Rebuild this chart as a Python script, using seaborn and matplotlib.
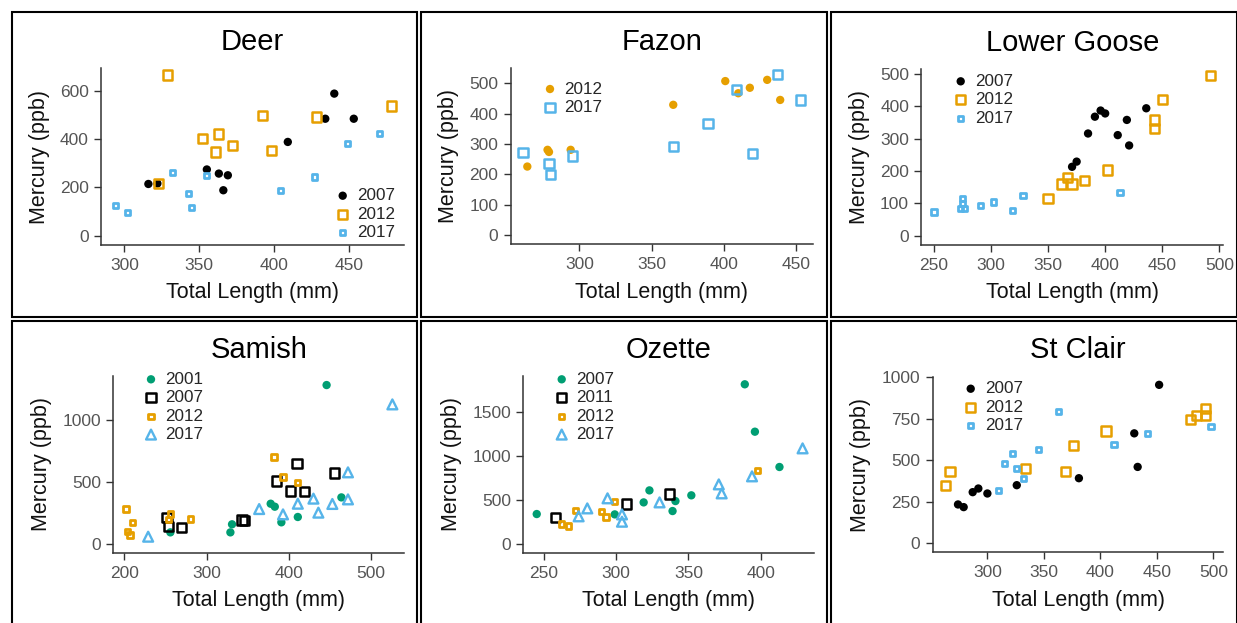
import matplotlib
matplotlib.use("Agg")
import matplotlib.pyplot as plt
import seaborn as sns
from matplotlib.patches import Rectangle

# ------------------------- data -------------------------
# Deer
deer_len_2007 = [316, 322, 355, 363, 366, 369, 409, 434, 440, 453]
deer_hg_2007 = [214, 216, 274, 257, 188, 250, 388, 484, 588, 484]
deer_len_2012 = [329, 323, 352, 363, 361, 372, 392, 398, 428, 478]
deer_hg_2012 = [665, 217, 401, 421, 346, 374, 498, 354, 491, 537]
deer_len_2017 = [294, 302, 332, 343, 345, 355, 404, 427, 449, 470]
deer_hg_2017 = [124, 97, 263, 174, 117, 250, 188, 243, 381, 422]

# Fazon
fazon_len_2012 = [264, 278, 279, 294, 365, 401, 410, 418, 430, 439]
fazon_hg_2012 = [226, 281, 274, 281, 429, 507, 467, 485, 511, 445]
fazon_len_2017 = [261, 279, 280, 295, 365, 389, 409, 420, 437, 453]
fazon_hg_2017 = [273, 235, 201, 261, 292, 367, 480, 269, 528, 445]

# Lower Goose
goose_len_2007 = [371, 375, 385, 391, 396, 400, 411, 419, 421, 436]
goose_hg_2007 = [213, 229, 316, 368, 387, 378, 311, 358, 279, 394]
goose_len_2012 = [350, 362, 367, 371, 382, 402, 443, 443, 450, 492]
goose_hg_2012 = [114, 160, 179, 160, 171, 203, 358, 332, 420, 496]
goose_len_2017 = [250, 273, 275, 275, 277, 291, 302, 319, 328, 413]
goose_hg_2017 = [73, 85, 115, 100, 84, 94, 104, 77, 125, 134]

# Samish
samish_len_2001 = [256, 329, 331, 378, 383, 391, 411, 446, 464]
samish_hg_2001 = [94, 94, 159, 325, 301, 175, 218, 1282, 376]
samish_len_2007 = [252, 254, 270, 343, 346, 385, 410, 402, 419, 456]
samish_hg_2007 = [215, 140, 132, 194, 188, 508, 648, 427, 422, 573]
samish_len_2012 = [202, 204, 207, 210, 256, 254, 280, 382, 393, 411]
samish_hg_2012 = [282, 99, 73, 175, 242, 196, 202, 702, 541, 497]
samish_len_2017 = [229, 364, 393, 411, 430, 436, 453, 472, 472, 526]
samish_hg_2017 = [59, 282, 239, 325, 366, 253, 323, 578, 360, 1126]

# Ozette
ozette_len_2007 = [245, 299, 319, 323, 341, 339, 352, 389, 396, 413]
ozette_hg_2007 = [340, 336, 472, 608, 487, 374, 552, 1810, 1273, 873]
ozette_len_2011 = [258, 307, 337]
ozette_hg_2011 = [298, 453, 567]
ozette_len_2012 = [262, 267, 272, 290, 293, 299, 398]
ozette_hg_2012 = [227, 204, 382, 366, 306, 480, 835]
ozette_len_2017 = [274, 280, 294, 304, 304, 330, 371, 373, 394, 429]
ozette_hg_2017 = [314, 404, 518, 336, 253, 472, 676, 574, 767, 1084]

# St Clair
clair_len_2007 = [274, 279, 287, 292, 300, 326, 381, 430, 433, 452]
clair_hg_2007 = [234, 218, 308, 330, 300, 350, 392, 662, 460, 954]
clair_len_2012 = [263, 267, 334, 369, 376, 405, 480, 485, 493, 493]
clair_hg_2012 = [350, 430, 450, 430, 588, 676, 746, 770, 810, 770]
clair_len_2017 = [310, 315, 322, 326, 332, 345, 363, 412, 442, 498]
clair_hg_2017 = [320, 480, 540, 450, 390, 564, 792, 594, 662, 704]

lakes = ["Deer", "Fazon", "Lower Goose", "Samish", "Ozette", "St Clair"]
series = {
    "Deer": [("2007", deer_len_2007, deer_hg_2007), ("2012", deer_len_2012, deer_hg_2012),
             ("2017", deer_len_2017, deer_hg_2017)],
    "Fazon": [("2012", fazon_len_2012, fazon_hg_2012), ("2017", fazon_len_2017, fazon_hg_2017)],
    "Lower Goose": [("2007", goose_len_2007, goose_hg_2007), ("2012", goose_len_2012, goose_hg_2012),
                    ("2017", goose_len_2017, goose_hg_2017)],
    "Samish": [("2001", samish_len_2001, samish_hg_2001), ("2007", samish_len_2007, samish_hg_2007),
               ("2012", samish_len_2012, samish_hg_2012), ("2017", samish_len_2017, samish_hg_2017)],
    "Ozette": [("2007", ozette_len_2007, ozette_hg_2007), ("2011", ozette_len_2011, ozette_hg_2011),
               ("2012", ozette_len_2012, ozette_hg_2012), ("2017", ozette_len_2017, ozette_hg_2017)],
    "St Clair": [("2007", clair_len_2007, clair_hg_2007), ("2012", clair_len_2012, clair_hg_2012),
                 ("2017", clair_len_2017, clair_hg_2017)],
}

x_ticks = {
    "Deer": [300, 350, 400, 450], "Fazon": [300, 350, 400, 450],
    "Lower Goose": [250, 300, 350, 400, 450, 500], "Samish": [200, 300, 400, 500],
    "Ozette": [250, 300, 350, 400], "St Clair": [300, 350, 400, 450, 500],
}
y_ticks = {
    "Deer": [0, 200, 400, 600], "Fazon": [0, 100, 200, 300, 400, 500],
    "Lower Goose": [0, 100, 200, 300, 400, 500], "Samish": [0, 500, 1000],
    "Ozette": [0, 500, 1000, 1500], "St Clair": [0, 250, 500, 750, 1000],
}

# ------------------------- layout / style -------------------------
W, H = 1237, 623
sns.set_style("ticks")
plt.rcParams["font.family"] = ["Liberation Sans", "DejaVu Sans"]

fig = plt.figure(figsize=(W / 100, H / 100), dpi=100)
fig.patch.set_facecolor("white")


def fx(x):
    return x / W


def fy(y):
    return 1 - y / H


# axes pixel boxes: left, top, right, bottom
boxes = {
    "Deer": (101, 68, 404, 245),
    "Fazon": (510.7, 68.3, 812.7, 244.3),
    "Lower Goose": (921.3, 69, 1223.3, 245),
    "Samish": (113.3, 376, 404.3, 552.7),
    "Ozette": (523.3, 376, 814, 552.7),
    "St Clair": (932.7, 376.7, 1223.3, 552.3),
}
limits = {
    "Deer": ((284.4, 486.5), (-38.6, 694)),
    "Fazon": ((252.5, 461.5), (-29.6, 549)),
    "Lower Goose": ((238.9, 503.5), (-28.9, 515.5)),
    "Samish": ((186.6, 540.5), (-70, 1355)),
    "Ozette": ((235.7, 436.9), (-98, 1904)),
    "St Clair": ((251.6, 508.8), (-54, 1003)),
}
ylab_dist = {"Deer": 61, "Fazon": 62, "Lower Goose": 62, "Samish": 72, "Ozette": 72, "St Clair": 72}
# legend: marker centre x, first row centre y (pixels)
legend_pos = {
    "Deer": (342.7, 193.7), "Fazon": (550, 87), "Lower Goose": (960.7, 79.3),
    "Samish": (151, 377.3), "Ozette": (561.7, 377.3), "St Clair": (970.7, 386.7),
}

palette_all = ["#009E73", "#000000", "#E69F00", "#56B4E9"]
marker_kinds = [
    dict(marker="o", s=36, linewidth=0, filled=True),
    dict(marker="s", s=44, linewidth=1.8, filled=False),
    dict(marker="s", s=14, linewidth=2.0, filled=False),
    dict(marker="^", s=50, linewidth=1.7, filled=False),
]

# panel frames
frames_x = [(12, 417), (421, 827), (831, 1237)]
frames_y = [(12, 317), (321, 627)]
for (y0, y1) in frames_y:
    for (x0, x1) in frames_x:
        fig.add_artist(Rectangle((fx(x0), fy(y1)), fx(x1) - fx(x0), fy(y0) - fy(y1),
                                 transform=fig.transFigure, fill=False, lw=1.5,
                                 edgecolor="black", zorder=10))

tick_color = "#555555"
spine_color = "#333333"
leg_fs = 12.3
fs_px = leg_fs * 100 / 72
handlelength = 0.8

for lake in lakes:
    l, t, r, b = boxes[lake]
    ax = fig.add_axes([fx(l), fy(b), fx(r) - fx(l), fy(t) - fy(b)])
    ss = series[lake]
    n = len(ss)
    cols = palette_all[-n:]
    handles, labels = [], []
    for i, (yr, xs, ys) in enumerate(ss):
        mk = marker_kinds[i]
        col = cols[i]
        if mk["filled"]:
            sns.scatterplot(x=xs, y=ys, ax=ax, marker=mk["marker"], s=mk["s"],
                            facecolor=col, edgecolor="none", linewidth=0, zorder=3)
        else:
            sns.scatterplot(x=xs, y=ys, ax=ax, marker=mk["marker"], s=mk["s"],
                            facecolor="none", edgecolor=col, linewidth=mk["linewidth"], zorder=3)
        h = ax.collections[-1]
        handles.append(h)
        labels.append(yr)

    (xl, yl) = limits[lake]
    ax.set_xlim(*xl)
    ax.set_ylim(*yl)
    ax.set_xticks(x_ticks[lake])
    ax.set_yticks(y_ticks[lake])
    ax.tick_params(axis="both", direction="out", length=5, width=1, color=spine_color,
                   labelcolor=tick_color, labelsize=12.5)
    ax.tick_params(axis="x", pad=4.5)
    ax.tick_params(axis="y", pad=3.8)
    for sp in ["top", "right"]:
        ax.spines[sp].set_visible(False)
    for sp in ["left", "bottom"]:
        ax.spines[sp].set_color(spine_color)
        ax.spines[sp].set_linewidth(1.1)
    ax.set_facecolor("white")

    ax.set_title(lake, fontsize=21, pad=13.3, color="black")
    ax.set_xlabel("Total Length (mm)", fontsize=15.5, color="#111111", va="center", ha="center")
    ax.set_ylabel("Mercury (ppb)", fontsize=15.5, color="#111111", va="center", ha="center")
    ax.xaxis.set_label_coords(fx((l + r) / 2), fy(b + 48), transform=fig.transFigure)
    ax.yaxis.set_label_coords(fx(l - ylab_dist[lake]), fy((t + b) / 2), transform=fig.transFigure)

    mx, my = legend_pos[lake]
    ax.legend(handles=handles, labels=labels, loc="upper left",
              bbox_to_anchor=(fx(mx - handlelength * fs_px / 2), fy(my - 5.5)),
              bbox_transform=fig.transFigure, frameon=False, fontsize=leg_fs,
              borderpad=0, borderaxespad=0, handlelength=handlelength,
              handletextpad=0.44, labelspacing=0.2, scatterpoints=1)

fig.savefig("out.png", dpi=100, facecolor="white")
